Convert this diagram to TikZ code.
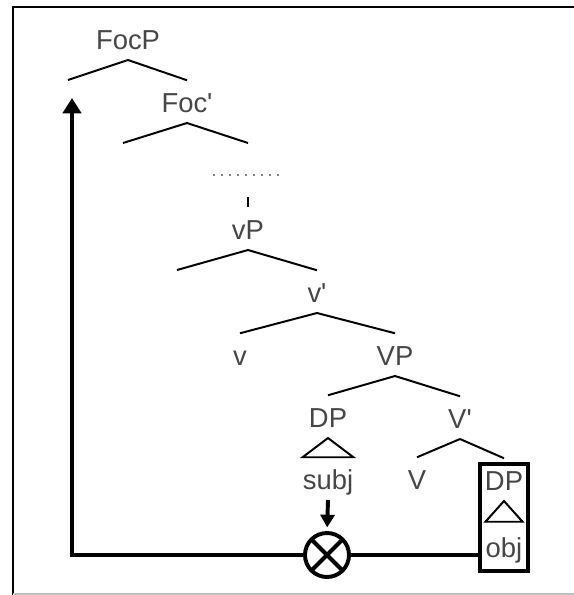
\documentclass[tikz,border=0pt]{standalone}
\usepackage{fontspec}
\setmainfont{Liberation Sans}
\usetikzlibrary{arrows.meta}
\definecolor{labelgray}{RGB}{70,70,70}
\definecolor{dotgray}{RGB}{130,130,130}
\definecolor{framegray}{RGB}{190,190,190}

\begin{document}
\begin{tikzpicture}[x=0.025cm, y=-0.025cm,
  every node/.style={font=\fontsize{19.5}{22}\selectfont, text=labelgray},
  lbl/.style={anchor=south, inner xsep=0pt, inner ysep=7pt, text height=16pt, text depth=0pt},
  branch/.style={line width=1.4pt, black},
  heavy/.style={line width=3.2pt, black}]
\useasboundingbox (0,0) rectangle (574,595);
% frame
\draw[line width=1.4pt] (13,595) -- (13,7) -- (574,7);
\draw[framegray, line width=0.8pt] (13,594) -- (574,594);

% labels, placed by the foot of each label
\foreach \n/\txt/\x/\y in {FocP/FocP/128/60, Focbar/Foc\textquotesingle/187/123, vP/vP/248/250,
  vbar/v\textquotesingle/317/313, v/v/240/376, VP/VP/395/376, DP/DP/328/438,
  Vbar/V\textquotesingle/460/439, subj/subj/328/500, V/V/417/500, DPo/DP/504/501}
  \node[lbl] (\n) at (\x,\y) {\txt};
\node[lbl, text height=18.5pt] (obj) at (504,568) {obj};

% free branch ends
\coordinate (FocP-l) at (68,80);
\coordinate (Focbar-l) at (123,143);
\coordinate (Focbar-r) at (248,143);
\coordinate (vP-l) at (177,270);
\coordinate (dots-l) at (213,175);
\coordinate (dots-r) at (283,175);
\coordinate (dots-b) at (248,197);
\coordinate (raise) at (72,98);

% branches
\foreach \a/\b in {FocP/FocP-l, FocP/Focbar.north, Focbar/Focbar-l, Focbar/Focbar-r,
  vP/vP-l, vP/vbar.north, vbar/v.north, vbar/VP.north, VP/DP.north, VP/Vbar.north,
  Vbar/V.north, Vbar/DPo.north}
  \draw[branch] (\a.south) -- (\b);

% dots
\draw[dotgray, line width=1.1pt, dash pattern=on 1.6pt off 4.1pt] (dots-l) -- (dots-r);
\draw[branch] (dots-b) -- (vP.north);

% triangles
\draw[branch] (DP.south) -- (subj.north west) -- (subj.north east) -- cycle;
\draw[branch] (DPo.south) -- (obj.north west) -- (obj.north east) -- cycle;

% box and otimes
\node[draw, line width=3pt, minimum width=1.2cm, minimum height=2.675cm, inner sep=0pt, outer sep=0pt] (objbox) at (504,517.5) {};
\node[draw, circle, line width=2.8pt, minimum size=1.1cm, inner sep=0pt, outer sep=0pt] (otimes) at (327,555) {};
\draw[line width=2.8pt] (otimes.north west) -- (otimes.south east) (otimes.north east) -- (otimes.south west);

% movement
\draw[heavy, -{Triangle[width=13pt, length=11pt]}] (otimes.west) -- (otimes -| raise) -- (raise);
\draw[heavy] (otimes.east) -- (otimes -| objbox.west);
\draw[line width=2.8pt, -{Triangle[width=10pt, length=9pt]}, shorten >=4pt] (subj.south) -- (otimes.north);
\end{tikzpicture}
\end{document}
